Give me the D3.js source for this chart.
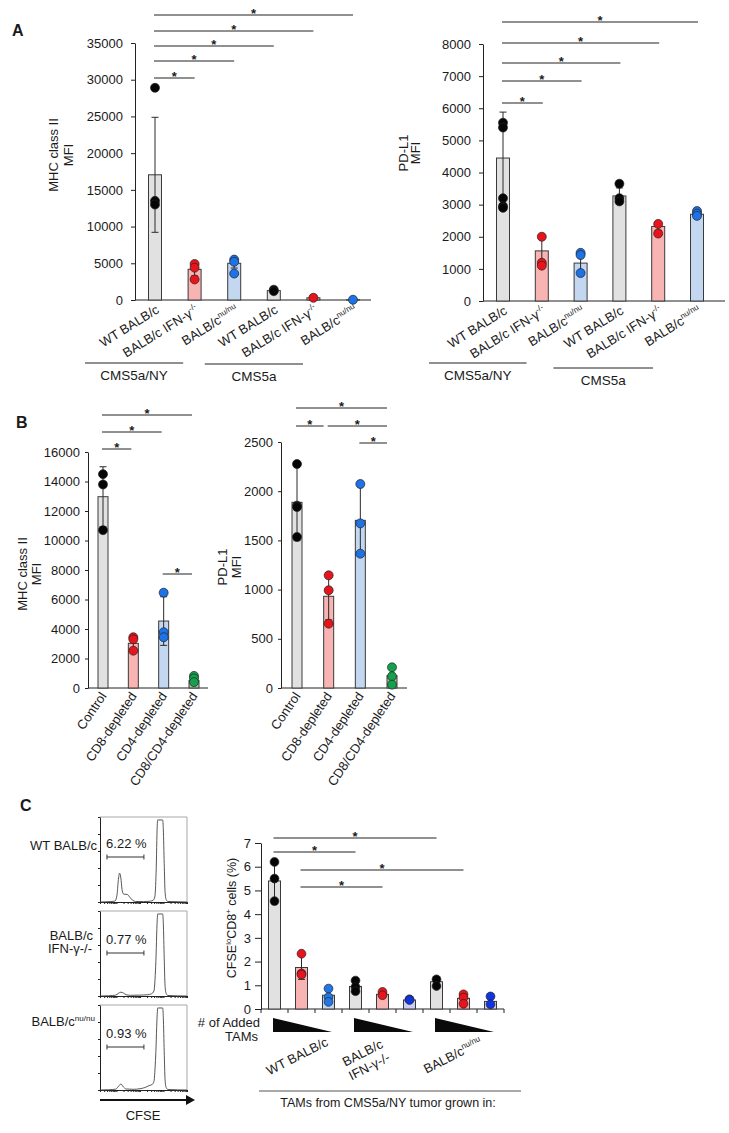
<!DOCTYPE html>
<html><head><meta charset="utf-8">
<script src="https://cdn.jsdelivr.net/npm/d3@7"></script>
<style>
body{margin:0;background:#fff}
svg{display:block}
text{font-family:"Liberation Sans",Arial,Helvetica,sans-serif;fill:#1a1a1a}
</style>
</head><body>
<svg id="c" width="729" height="1133"></svg>
<script>
// ---------------- DATA ----------------
// Panel A categories (tumor grown in host) and labels
const aCats = ["WT BALB/c","BALB/c IFN-γ-/-","BALB/c nu/nu","WT BALB/c ","BALB/c IFN-γ-/- ","BALB/c nu/nu "];
const aLabelParts = [
  [["WT BALB/c",0]],
  [["BALB/c IFN-γ",0],["-/-",1]],
  [["BALB/c",0],["nu/nu",1]],
  [["WT BALB/c",0]],
  [["BALB/c IFN-γ",0],["-/-",1]],
  [["BALB/c",0],["nu/nu",1]]
];
const aGroups = ["CMS5a/NY","CMS5a"];
const aGroupMembers = [[0,2],[3,5]];
const aHost = ["wt","ifn","nu","wt","ifn","nu"];

// A: MHC class II MFI
const mhcA_mean = [17050,4180,5000,1280,300,40];
const mhcA_sd   = [7830,900,650,120,50,10];
const mhcA_pts  = [[28900,13500,13000],[4900,4400,2800],[5500,5200,3600],[1400,1200],[300],[30]];
const mhcA_ticks = [0,5000,10000,15000,20000,25000,30000,35000];
// A: PD-L1 MFI
const pdlA_mean = [4450,1560,1180,3270,2320,2700];
const pdlA_sd   = [1430,400,300,250,120,60];
const pdlA_pts  = [[5550,5400,3200,2950,2900],[2000,1190,1100],[1500,1430,870],[3650,3200,3100],[2400,2100],[2800,2720,2650]];
const pdlA_ticks = [0,1000,2000,3000,4000,5000,6000,7000,8000];
// A comparisons (index pairs)
const aComparisons = [[0,1],[0,2],[0,3],[0,4],[0,5]];

// Panel B
const bCats = ["Control","CD8-depleted","CD4-depleted","CD8/CD4-depleted"];
const bHost = ["wt","ifn","nu","dbl"];
const mhcB_mean = [12970,3030,4540,500];
const mhcB_sd   = [2030,450,1650,220];
const mhcB_pts  = [[14500,13800,10700],[3440,3300,2530],[6460,3780,3440],[820,650,400]];
const mhcB_ticks = [0,2000,4000,6000,8000,10000,12000,14000,16000];
const mhcB_comparisons = [[0,1],[0,2],[0,3],[2,3]];
const pdlB_mean = [1887,932,1704,125];
const pdlB_sd   = [390,240,365,90];
const pdlB_pts  = [[2276,1853,1839,1535],[1145,993,654],[2073,1673,1365],[210,119,34]];
const pdlB_ticks = [0,500,1000,1500,2000,2500];
const pdlB_comparisons = [[0,3],[0,1],[1,3],[2,3]];

// Panel C bar chart: CFSE-lo CD8+ cells (%)
const cGroups = [[["WT BALB/c",0]],[["BALB/c",0]],[["BALB/c",0],["nu/nu",1]]];
const cGroup2Line2 = "IFN-γ-/-";
const cDose = ["high","mid","low"];
const cHostColor = ["wt","ifn","nuC","wt","ifn","nuD","wt","ifn","nuD"];
const cfse_mean = [5.4,1.75,0.58,0.95,0.62,0.38,1.15,0.45,0.32];
const cfse_sd   = [0.85,0.5,0.2,0.2,0.08,0.03,0.12,0.15,0.15];
const cfse_pts  = [[6.2,5.5,4.55],[2.33,1.5,1.45],[0.86,0.5,0.3],[1.2,0.93,0.75],[0.72,0.58],[0.41,0.38],[1.25,0.97],[0.62,0.48,0.22],[0.53,0.2]];
const cfse_ticks = [0,1,2,3,4,5,6,7];
const cComparisons = [[0,6],[0,3],[1,7],[1,4]];

// Panel C histograms
const histSamples = [[["WT BALB/c",0]],[["BALB/c",0]],[["BALB/c",0],["nu/nu",1]]];
const histPct = ["6.22 %","0.77 %","0.93 %"];
const histCurves = [
  [[0,0],[8,0.3],[17,1],[19.5,8],[21,25],[22.5,34],[24,28],[25.3,15],[26.5,10],[28.5,9],[31,9],[34,6],[37.5,2],[41,0.6],[50,0.5],[58,1],[61,2],[63,6],[64.5,35],[65.8,90],[66.3,96.5],[72,96.5],[72.8,85],[73.8,45],[74.8,12],[76,3],[78,0.6],[90,0.3],[100,0]],
  [[0,0],[10,0.3],[18,1],[21,3],[24,4.5],[27,3.5],[30,1.5],[35,0.8],[45,1],[55,1.5],[59,2.5],[62,6],[64,35],[65.8,90],[66.3,96.5],[72,96.5],[72.8,85],[73.8,45],[74.8,12],[76,3],[78,0.6],[100,0]],
  [[0,0],[10,0.3],[18,1],[21,4],[24,7],[27,3.5],[30,1.2],[38,0.8],[46,1.5],[52,3],[56,5],[60,6.5],[62,10],[64,40],[65.8,90],[66.3,96.5],[72,96.5],[72.8,85],[73.8,45],[74.8,12],[76,3],[78,0.6],[100,0]]
];

// ---------------- STYLE ----------------
const FILL = {wt:"#e1e1e1", ifn:"#f8b3b3", nu:"#c4d7f1", dbl:"#a9c6a2", nuC:"#c4d7f1", nuD:"#cbcdf3"};
const DOT  = {wt:"#050505", ifn:"#e8141c", nu:"#1c72e6", dbl:"#14a04c", nuC:"#2277e6", nuD:"#1233e0"};

const svg = d3.select("#c");

function rich(sel, parts, size){
  let shift = 0;
  parts.forEach(([t,sup])=>{
    const target = sup ? -size*0.4 : 0;
    const ts = sel.append("tspan").text(t).attr("font-size", sup ? size*0.62 : size);
    if (target !== shift) ts.attr("dy", target - shift);
    shift = target;
  });
  return sel;
}

function barPanel(o){
  const g = svg.append("g");
  const n = o.means.length;
  const x = o.band ? d3.scaleBand().domain(d3.range(n)).range(o.xr)
                   : d3.scalePoint().domain(d3.range(n)).range(o.xr);
  const cx = i => o.band ? x(i) + x.bandwidth()/2 : x(i);
  const y = d3.scaleLinear().domain([0,o.ymax]).range(o.yr);
  const axis = d3.axisLeft(y).tickValues(o.ticks).tickSize(o.tickSize).tickSizeOuter(0)
     .tickPadding(o.pad).tickFormat(d3.format("d"));
  const ag = g.append("g").attr("transform",`translate(${o.ax},0)`).call(axis);
  ag.selectAll("text").attr("font-size",o.fs).attr("font-family",'"Liberation Sans",Arial,sans-serif').attr("fill","#1a1a1a");
  ag.selectAll("line,path").attr("stroke","#222");
  g.append("line").attr("x1",o.ax).attr("x2",o.axEnd).attr("y1",y(0)).attr("y2",y(0)).attr("stroke","#222");
  if (o.band){
    const bounds = d3.range(n).map(i=>x(i)).concat([o.xr[1]]);
    g.selectAll(null).data(bounds).join("line")
      .attr("x1",d=>d).attr("x2",d=>d).attr("y1",y(0)).attr("y2",y(0)+4).attr("stroke","#222");
  }
  // bars
  g.selectAll(null).data(o.means).join("rect")
    .attr("x",(d,i)=>cx(i)-o.bw/2).attr("y",d=>y(d)).attr("width",o.bw).attr("height",d=>y(0)-y(d))
    .attr("fill",(d,i)=>FILL[o.hosts[i]]).attr("stroke","#3a3a3a").attr("stroke-width",1);
  // error bars
  o.means.forEach((m,i)=>{
    const lo = Math.max(0,m-o.sd[i]), hi = m+o.sd[i];
    const eg = g.append("g").attr("stroke","#2a2a2a").attr("stroke-width",1);
    eg.append("line").attr("x1",cx(i)).attr("x2",cx(i)).attr("y1",y(lo)).attr("y2",y(hi));
    eg.append("line").attr("x1",cx(i)-3.5).attr("x2",cx(i)+3.5).attr("y1",y(hi)).attr("y2",y(hi));
    eg.append("line").attr("x1",cx(i)-3.5).attr("x2",cx(i)+3.5).attr("y1",y(lo)).attr("y2",y(lo));
  });
  // dots
  o.pts.forEach((arr,i)=>{
    g.selectAll(null).data(arr).join("circle")
      .attr("cx",cx(i)).attr("cy",d=>y(d)).attr("r",o.r)
      .attr("fill",DOT[o.hosts[i]]).attr("stroke","#222").attr("stroke-width",0.7);
  });
  // significance
  o.comps.forEach(([a,b],k)=>{
    const ly = o.sigY[k];
    const x1 = cx(a)-1, x2 = cx(b)-(o.sigTrim||0);
    g.append("line").attr("x1",x1).attr("x2",x2).attr("y1",ly).attr("y2",ly).attr("stroke","#222").attr("stroke-width",1);
    g.append("text").attr("x",(x1+x2)/2).attr("y",ly+2.5).attr("text-anchor","middle")
      .attr("font-size",13).attr("font-weight","bold").text("*");
  });
  // y label
  if (o.ylab){
    o.ylab.forEach((parts,k)=>{
      const t = g.append("text").attr("transform",`translate(${o.ylabX[k]},${o.ylabY}) rotate(-90)`)
        .attr("text-anchor","middle").attr("dy","0.35em");
      rich(t, parts, o.ylabFs || 13);
    });
  }
  // x labels
  if (o.xlab){
    o.xlab.forEach((parts,i)=>{
      const t = g.append("text").attr("transform",`translate(${cx(i)+o.lx},${y(0)+o.ly}) rotate(${o.rot})`)
        .attr("text-anchor","end");
      rich(t, parts, o.xfs || 13);
    });
  }
  return {x, cx, y, g};
}

// ---------------- PANEL A ----------------
svg.append("text").attr("x",12).attr("y",36).attr("font-size",16).attr("font-weight","bold").text("A");

const A1 = barPanel({
  means:mhcA_mean, sd:mhcA_sd, pts:mhcA_pts, hosts:aHost, ticks:mhcA_ticks, ymax:35000,
  xr:[155,353], yr:[300,43], ax:135, axEnd:371, bw:13, r:4.5, tickSize:4, pad:8, fs:13,
  comps:aComparisons, sigY:[78,61,46,31,15],
  ylab:[[["MHC class II",0]],[["MFI",0]]], ylabX:[52,67], ylabY:155,
  xlab:aLabelParts, lx:5, ly:12, rot:-32
});
const A2 = barPanel({
  means:pdlA_mean, sd:pdlA_sd, pts:pdlA_pts, hosts:aHost, ticks:pdlA_ticks, ymax:8000,
  xr:[503,697], yr:[301,44], ax:483, axEnd:725, bw:13, r:4.5, tickSize:4, pad:8, fs:13,
  comps:aComparisons, sigY:[103,81,63,43,22], sigTrim:-1,
  ylab:[[["PD-L1",0]],[["MFI",0]]], ylabX:[402,414], ylabY:153,
  xlab:aLabelParts, lx:5, ly:12, rot:-32
});
// group underlines for A
function groupLines(P, spans, fs){
  aGroupMembers.forEach(([f,l],k)=>{
    const [d1,d2,ly] = spans[k];
    const x1 = P.cx(f)+d1, x2 = P.cx(l)+d2;
    P.g.append("line").attr("x1",x1).attr("x2",x2).attr("y1",ly).attr("y2",ly).attr("stroke","#222");
    P.g.append("text").attr("x",(x1+x2)/2).attr("y",ly+17).attr("text-anchor","middle").attr("font-size",fs).text(aGroups[k]);
  });
}
groupLines(A1, [[-70,-51,363],[-69,-50,364]], 13.5);
groupLines(A2, [[-74,-54,363],[-66,-44,368]], 13.5);

// ---------------- PANEL B ----------------
svg.append("text").attr("x",16).attr("y",428).attr("font-size",16).attr("font-weight","bold").text("B");
const bLabels = bCats.map(c=>[[c,0]]);
barPanel({
  means:mhcB_mean, sd:mhcB_sd, pts:mhcB_pts, hosts:bHost, ticks:mhcB_ticks, ymax:16000,
  xr:[103,194], yr:[688,452], ax:88, axEnd:208, bw:10, r:4.5, tickSize:3, pad:5, fs:13,
  comps:mhcB_comparisons, sigY:[449,432,415,574], sigTrim:2,
  ylab:[[["MHC class II",0]],[["MFI",0]]], ylabX:[21,35], ylabY:574,
  xlab:bLabels, lx:4, ly:8, rot:-56
});
barPanel({
  means:pdlB_mean, sd:pdlB_sd, pts:pdlB_pts, hosts:bHost, ticks:pdlB_ticks, ymax:2500,
  xr:[297,392], yr:[688,442], ax:281, axEnd:407, bw:10, r:4.5, tickSize:3, pad:5, fs:13,
  comps:pdlB_comparisons, sigY:[408,426,426,443], sigTrim:5,
  ylab:[[["PD-L1",0]],[["MFI",0]]], ylabX:[221,235], ylabY:567,
  xlab:bLabels, lx:4, ly:8, rot:-56
});

// ---------------- PANEL C ----------------
svg.append("text").attr("x",20).attr("y",811).attr("font-size",16).attr("font-weight","bold").text("C");

// histograms
const hx0 = 100, hw = 87, hh = 85, hTops = [817,911,1005];
const hxS = d3.scaleLinear().domain([0,100]).range([hx0, hx0+hw]);
hTops.forEach((top,k)=>{
  const g = svg.append("g");
  const hy = d3.scaleLinear().domain([0,100]).range([top+hh, top]);
  g.append("path").attr("d",`M${hx0},${top}H${hx0+hw}V${top+hh}`).attr("fill","none").attr("stroke","#a8a8a8");
  g.append("g").attr("transform",`translate(${hx0},0)`)
    .call(d3.axisLeft(hy).ticks(5).tickSize(2).tickSizeOuter(0).tickFormat(""))
    .selectAll("line,path").attr("stroke","#222");
  const lg = d3.scaleLog().domain([20,1e5]).range([hx0,hx0+hw]);
  g.append("g").attr("transform",`translate(0,${top+hh})`)
    .call(d3.axisBottom(lg).tickSize(2).tickSizeOuter(0).tickFormat(""))
    .selectAll("line,path").attr("stroke","#222");
  g.append("path").datum(histCurves[k])
    .attr("d", d3.line().x(d=>hxS(d[0])).y(d=>hy(d[1])).curve(d3.curveMonotoneX))
    .attr("fill","none").attr("stroke","#444").attr("stroke-width",0.9);
  // gate
  const gy = [857,953,1047][k];
  g.append("path").attr("d",`M${hxS(8)},${gy-2.5}V${gy+2.5}M${hxS(8)},${gy}H${hxS(50.5)}M${hxS(50.5)},${gy-2.5}V${gy+2.5}`)
    .attr("stroke","#333").attr("fill","none");
  g.append("text").attr("x",hxS(7)).attr("y",gy-9).attr("font-size",13).text(histPct[k]);
});
// histogram sample labels
rich(svg.append("text").attr("x",97).attr("y",850).attr("text-anchor","end"), histSamples[0], 13);
rich(svg.append("text").attr("x",93).attr("y",940).attr("text-anchor","end"), histSamples[1], 13);
svg.append("text").attr("x",92).attr("y",953).attr("text-anchor","end").attr("font-size",13).text(cGroup2Line2);
rich(svg.append("text").attr("x",95).attr("y",1026).attr("text-anchor","end"), histSamples[2], 13);
// CFSE arrow
svg.append("line").attr("x1",hx0).attr("x2",hx0+88).attr("y1",1100).attr("y2",1100).attr("stroke","#111").attr("stroke-width",2);
svg.append("path").attr("d",`M${hx0+86},1095L${hx0+95},1100L${hx0+86},1105Z`).attr("fill","#111");
svg.append("text").attr("x",143).attr("y",1120).attr("text-anchor","middle").attr("font-size",13).text("CFSE");

// CFSE bar chart
const C = barPanel({
  band:true, means:cfse_mean, sd:cfse_sd, pts:cfse_pts, hosts:cHostColor, ticks:cfse_ticks, ymax:7,
  xr:[261,504], yr:[1009,843], ax:261, axEnd:504, bw:12, r:4.4, tickSize:6, pad:4, fs:13,
  comps:cComparisons, sigY:[838,852,870,887],
  ylab:[[["CFSE",0],["lo",1],["CD8",0],["+",1],[" cells (%)",0]]], ylabX:[230], ylabY:918, ylabFs:12.5
});
// dose wedges
[0,1,2].forEach(k=>{
  const xl = C.cx(k*3)-1.5, xr = C.cx(k*3+2)+3.5;
  svg.append("path").attr("d",`M${xl},1018L${xl},1032L${xr},1032Z`).attr("fill","#0a0a0a");
});
svg.append("text").attr("x",260).attr("y",1027).attr("text-anchor","end").attr("font-size",13).text("# of Added");
svg.append("text").attr("x",258).attr("y",1041).attr("text-anchor","end").attr("font-size",13).text("TAMs");
// group labels (rotated)
const cLabelDx = [26.5, 0.5, 18.5];
const cLabelDy = [1045, 1047, 1045];
[0,1,2].forEach(k=>{
  const mid = (C.cx(k*3)-1.5 + C.cx(k*3+2)+3.5)/2;
  const gx = mid + cLabelDx[k];
  const t = svg.append("text").attr("transform",`translate(${gx},${cLabelDy[k]}) rotate(-27)`).attr("text-anchor","end");
  rich(t, cGroups[k], 13);
  if (k===1){
    svg.append("text").attr("transform",`translate(${gx+6.8},${cLabelDy[k]+13.4}) rotate(-27)`)
      .attr("text-anchor","end").attr("font-size",13).text(cGroup2Line2);
  }
});
svg.append("line").attr("x1",259).attr("x2",521).attr("y1",1091).attr("y2",1091).attr("stroke","#555");
svg.append("text").attr("x",388).attr("y",1107).attr("text-anchor","middle").attr("font-size",12.5).text("TAMs from CMS5a/NY tumor grown in:");
</script>
</body></html>
